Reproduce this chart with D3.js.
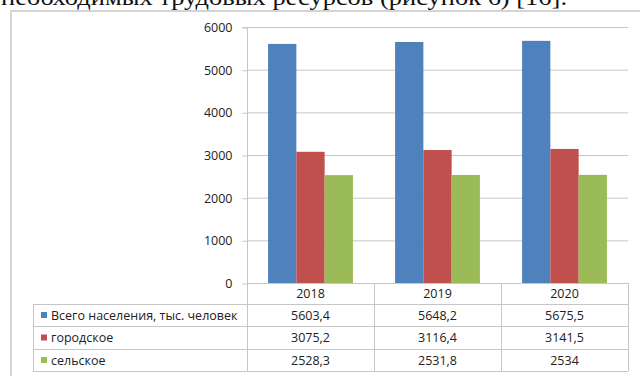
<!DOCTYPE html>
<html><head><meta charset="utf-8">
<script src="https://cdn.jsdelivr.net/npm/d3@7"></script>
<style>body{margin:0;background:#fff}svg{display:block}</style>
</head><body>
<svg id="c" width="640" height="376"></svg>
<script>
const categories = ["2018", "2019", "2020"];
const seriesNames = ["Всего населения, тыс. человек", "городское", "сельское"];
const totalValues = [5603.4, 5648.2, 5675.5];
const urbanValues = [3075.2, 3116.4, 3141.5];
const ruralValues = [2528.3, 2531.8, 2534];
const tickValues = [0, 1000, 2000, 3000, 4000, 5000, 6000];
const colors = ["#4F81BD", "#C0504D", "#9BBB59"];
const captionText = "необходимых трудовых ресурсов (рисунок 6) [16].";

const series = [totalValues, urbanValues, ruralValues];
const fmt = v => String(v).replace(".", ",");
const svg = d3.select("#c");
const font = "'Open Sans', sans-serif";

// caption (cut off at top)
svg.append("text").attr("x", 1).attr("y", 5)
  .attr("font-family", "'Liberation Serif', serif").attr("font-size", 23)
  .attr("textLength", 566).attr("lengthAdjust", "spacingAndGlyphs")
  .attr("fill", "#111").text(captionText);

// outer frame
svg.append("rect").attr("x", 11).attr("y", 11).attr("width", 640).attr("height", 380)
  .attr("fill", "none").attr("stroke", "#d4d4d4").attr("stroke-width", 2);

const pLeft = 247, pRight = 628, pTop = 27, pBottom = 283;
const x = d3.scaleBand().domain(categories).range([pLeft, pRight]).padding(0);
const xs = d3.scaleBand().domain(d3.range(series.length)).range([0, x.bandwidth()]).paddingInner(0).paddingOuter(0.745);
const y = d3.scaleLinear().domain([0, 6000]).range([pBottom, pTop]);

// gridlines
svg.append("g").selectAll("line").data(tickValues).join("line")
  .attr("x1", pLeft).attr("x2", pRight).attr("y1", d => y(d) + 0.5).attr("y2", d => y(d) + 0.5)
  .attr("stroke", "#c6c6c6").attr("stroke-width", 1);

// y axis
const yAxis = d3.axisLeft(y).tickValues(tickValues).tickSize(5).tickPadding(10).tickFormat(d3.format("d"));
const ga = svg.append("g").attr("transform", `translate(${pLeft + 0.5},0.5)`).call(yAxis);
ga.select(".domain").attr("stroke", "#c6c6c6").attr("d", `M-5,${y(6000)}H0V${y(0)}`);
ga.selectAll(".tick line").attr("stroke", "#c6c6c6");
ga.selectAll("text").attr("font-family", font).attr("font-size", 12.5).attr("fill", "#222");

// bars
series.forEach((vals, si) => {
  svg.append("g").selectAll("rect").data(vals).join("rect")
    .attr("x", (d, i) => x(categories[i]) + xs(si))
    .attr("y", d => y(d))
    .attr("width", xs.bandwidth())
    .attr("height", d => y(0) - y(d))
    .attr("fill", colors[si]);
});

// data table
const tableLeft = 33;
const rowEdges = [283, 304, 326, 349, 371];
const tg = svg.append("g");
const lc = "#c6c6c6";
tg.append("line").attr("x1", pLeft).attr("x2", pRight).attr("y1", rowEdges[0] + 0.5).attr("y2", rowEdges[0] + 0.5).attr("stroke", lc);
rowEdges.slice(1).forEach(r => {
  tg.append("line").attr("x1", tableLeft).attr("x2", pRight).attr("y1", r + 0.5).attr("y2", r + 0.5).attr("stroke", lc);
});
tg.append("line").attr("x1", tableLeft + 0.5).attr("x2", tableLeft + 0.5).attr("y1", rowEdges[1]).attr("y2", rowEdges[4]).attr("stroke", lc);
[...categories.map(c => x(c)), pRight].forEach(xx => {
  tg.append("line").attr("x1", xx + 0.5).attr("x2", xx + 0.5).attr("y1", rowEdges[0]).attr("y2", rowEdges[4]).attr("stroke", lc);
});
tg.selectAll(".hdr").data(categories).join("text")
  .attr("x", d => x(d) + x.bandwidth() / 2).attr("y", (rowEdges[0] + rowEdges[1]) / 2 + 4.5)
  .attr("text-anchor", "middle").attr("font-family", font).attr("font-size", 12.5).attr("fill", "#222").text(d => d);
series.forEach((vals, si) => {
  const cy = (rowEdges[si + 1] + rowEdges[si + 2]) / 2;
  tg.append("rect").attr("x", 41).attr("y", cy - 3).attr("width", 6).attr("height", 6).attr("fill", colors[si]);
  tg.append("text").attr("x", 51).attr("y", cy + 4.5).attr("font-family", font).attr("font-size", 12.5).attr("fill", "#222").text(seriesNames[si]);
  tg.selectAll(".v" + si).data(vals).join("text")
    .attr("x", (d, i) => x(categories[i]) + x.bandwidth() / 2).attr("y", cy + 4.5)
    .attr("text-anchor", "middle").attr("font-family", font).attr("font-size", 12.5).attr("fill", "#222").text(d => fmt(d));
});
</script>
</body></html>
